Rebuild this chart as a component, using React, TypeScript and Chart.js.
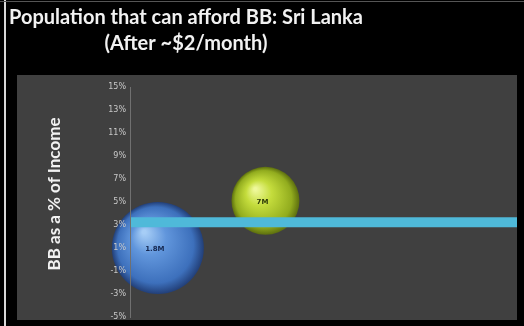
import React, { useEffect, useRef } from "react";
import { Chart, registerables } from "chart.js";

Chart.register(...registerables);

const titleLines = ["Population that can afford BB: Sri Lanka", "(After ~$2/month)"];
const yAxisTitle = "BB as a % of Income";

// bubbles: x position (arbitrary index), y = BB cost as % of income, size
const bubbleLabels = ["1.8M", "7M"];
const bubbleX = [0.72, 3.5];
const bubbleY = [1.0, 5.1];
const bubbleSize = [46, 34];

// affordability threshold line
const thresholdX = [0, 10];
const thresholdY = [3.25, 3.25];

const yMin = -5;
const yMax = 15;
const yStep = 2;

const bubbleStops = [
  ["#a6cdf6", "#6196dc", "#3d70bc", "#223f78"],
  ["#eef89a", "#c4dc3c", "#92ac1e", "#5c6e0e"],
];
const labelColors = ["#14264e", "#2e3a08"];

const bgPlugin = {
  id: "bg",
  beforeDraw(chart: any) {
    const { ctx, width, height } = chart;
    ctx.save();
    ctx.fillStyle = "#000";
    ctx.fillRect(0, 0, width, height);
    ctx.fillStyle = "#404040";
    ctx.fillRect(17, 75, 500, 245);
    ctx.fillStyle = "#d8d8d8";
    ctx.fillRect(4, 0, 2, height);
    ctx.fillStyle = "#555";
    ctx.fillRect(0, 1, width, 1);
    // titles
    ctx.fillStyle = "#f2f2f2";
    ctx.textAlign = "center";
    ctx.textBaseline = "middle";
    ctx.font = "bold 20px Lato, 'Open Sans', sans-serif";
    ctx.fillText(titleLines[0], 186, 18);
    ctx.fillText(titleLines[1], 186, 44);
    ctx.save();
    ctx.translate(55, 194);
    ctx.rotate(-Math.PI / 2);
    ctx.font = "bold 17px Lato, 'Open Sans', sans-serif";
    ctx.fillText(yAxisTitle, 0, 0);
    ctx.restore();
    ctx.restore();
  },
};

const labelPlugin = {
  id: "bubbleLabels",
  afterDatasetsDraw(chart: any) {
    const { ctx } = chart;
    const meta = chart.getDatasetMeta(1);
    ctx.save();
    ctx.font = "bold 7px 'DejaVu Sans', sans-serif";
    ctx.textAlign = "center";
    ctx.textBaseline = "middle";
    meta.data.forEach((el: any, i: number) => {
      ctx.fillStyle = labelColors[i];
      ctx.fillText(bubbleLabels[i], el.x - 3, el.y + 1);
    });
    ctx.restore();
  },
};

export default function App() {
  const ref = useRef<HTMLCanvasElement>(null);
  useEffect(() => {
    document.body.style.margin = "0";
    document.body.style.background = "#000";
    const chart = new Chart(ref.current!, {
      type: "bubble",
      data: {
        datasets: [
          {
            type: "line",
            order: 0,
            data: thresholdX.map((x, i) => ({ x, y: thresholdY[i] })),
            borderColor: "#4fb9d9",
            borderWidth: 10,
            pointRadius: 0,
            fill: false,
          } as any,
          {
            type: "bubble",
            order: 1,
            clip: false,
            data: bubbleX.map((x, i) => ({ x, y: bubbleY[i], r: bubbleSize[i] })),
            borderWidth: 0,
            backgroundColor: (c: any) => {
              const chart = c.chart;
              const raw = c.raw;
              const xs = chart.scales?.x;
              const ys = chart.scales?.y;
              const i = c.dataIndex ?? 0;
              const s = bubbleStops[i % 2];
              if (!raw || !xs || !ys) return s[1];
              const cx = xs.getPixelForValue(raw.x);
              const cy = ys.getPixelForValue(raw.y);
              const r = raw.r;
              if (![cx, cy, r].every((v) => Number.isFinite(v))) return s[1];
              const g = chart.ctx.createRadialGradient(cx - r * 0.3, cy - r * 0.35, r * 0.04, cx, cy, r);
              g.addColorStop(0, s[0]);
              g.addColorStop(0.35, s[1]);
              g.addColorStop(0.82, s[2]);
              g.addColorStop(1, s[3]);
              return g;
            },
          },
        ],
      },
      options: {
        responsive: false,
        animation: false,
        layout: { autoPadding: false, padding: { left: 0, right: 7, top: 87, bottom: 9 } },
        plugins: { legend: { display: false }, tooltip: { enabled: false }, title: { display: false } },
        scales: {
          x: { type: "linear", display: false, min: 0, max: 10 },
          y: {
            min: yMin,
            max: yMax,
            afterFit: (s: any) => {
              s.width = 130;
            },
            grid: { display: false, drawTicks: false, z: 1 },
            border: { display: true, color: "#707070", width: 1, z: 1 },
            ticks: {
              z: 1,
              stepSize: yStep,
              padding: 4,
              color: "#c8c8c8",
              font: { size: 8, family: "'DejaVu Sans', sans-serif" },
              callback: (v: any) => v + "%",
            },
          },
        },
      },
      plugins: [bgPlugin, labelPlugin],
    });
    return () => chart.destroy();
  }, []);
  return (
    <div style={{ position: "fixed", left: 0, top: 0, width: 524, height: 326 }}>
      <canvas ref={ref} width={524} height={326} />
    </div>
  );
}
